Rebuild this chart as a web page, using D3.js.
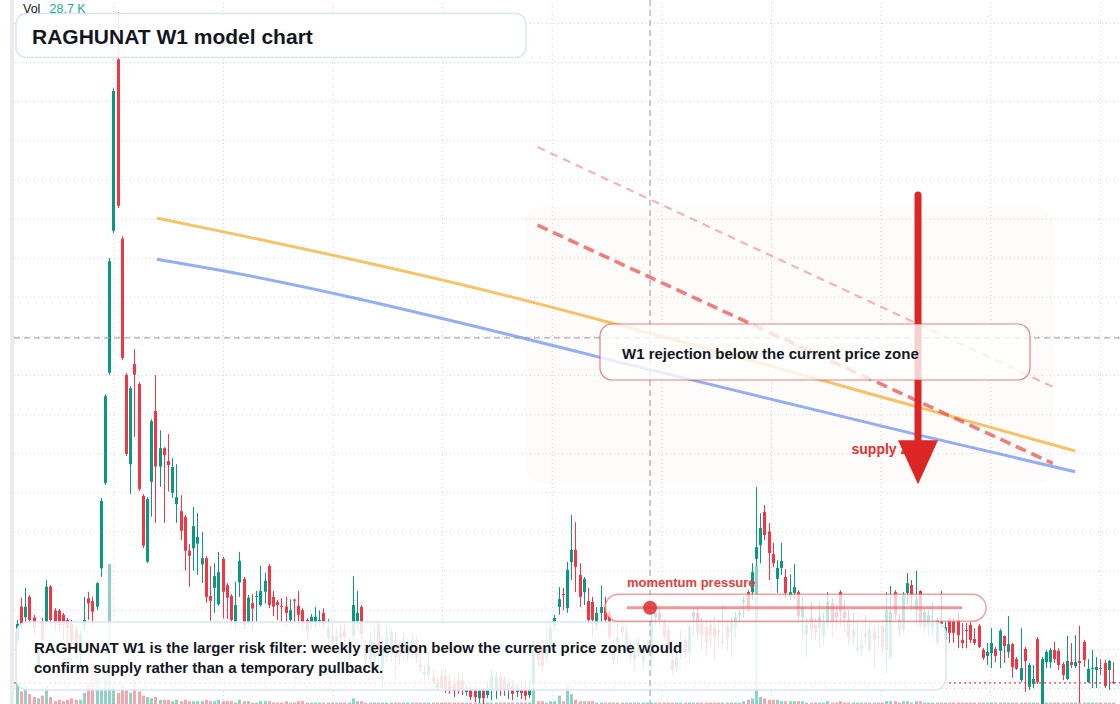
<!DOCTYPE html>
<html><head><meta charset="utf-8">
<script src="https://cdn.jsdelivr.net/npm/d3@7"></script>
<style>
html,body{margin:0;padding:0;background:#fff;overflow:hidden;}
svg{display:block;font-family:"Liberation Sans",Arial,Helvetica,sans-serif;}
</style></head><body>
<svg id="chart" width="1120" height="704"></svg>
<script>
// ---- data (weekly candles, price units) ----
const opens = [32.3,40.8,38.1,43.3,38.0,25.9,36.9,36.9,45.9,39.8,39.8,38.7,37.4,36.4,34.8,28.4,36.1,42.9,42.2,40.8,
50.6,72.4,100.6,136.9,180.7,134.9,100.0,77.2,102.8,97.7,69.1,52.3,72.7,90.8,76.6,81.3,78.0,69.9,67.0,65.2,
63.7,55.1,55.7,56.9,51.6,53.2,43.5,45.6,41.4,53.0,46.3,43.5,36.9,47.0,47.9,36.9,41.7,43.3,41.2,44.6,
51.2,43.3,42.0,41.0,40.8,37.4,42.6,41.0,39.9,37.4,36.9,36.9,37.1,39.2,32.8,33.5,32.0,34.1,34.6,29.2,
33.3,37.1,40.7,30.2,27.2,27.7,36.1,25.1,27.9,28.4,32.3,31.0,29.5,28.4,29.7,32.3,25.9,23.3,23.3,22.8,
20.0,23.3,23.3,21.8,21.0,22.0,22.0,19.0,19.7,19.5,17.4,19.5,18.2,20.0,19.5,22.8,22.0,19.5,20.5,19.0,
19.5,19.7,18.2,20.8,30.2,30.2,27.9,30.5,36.1,40.7,44.0,40.4,52.2,55.3,48.9,44.5,42.2,42.0,36.1,39.2,
40.7,39.2,31.0,30.5,35.6,30.5,30.5,27.2,28.9,26.6,29.7,31.0,38.1,39.2,36.9,34.8,27.2,25.4,29.2,32.3,
28.9,38.1,39.2,36.6,35.6,36.1,35.6,34.8,31.5,35.6,34.1,35.6,38.7,42.0,44.5,44.5,53.0,56.5,65.0,60.0,
54.2,47.9,50.7,48.4,43.5,44.3,44.5,38.1,33.5,37.9,36.1,35.3,33.3,36.6,41.7,39.4,44.5,39.4,37.4,32.8,
29.7,30.2,34.1,29.7,34.3,33.0,35.9,29.7,27.9,44.5,37.6,34.8,44.3,46.3,39.9,44.8,35.6,36.1,35.6,31.5,
36.9,32.3,37.1,36.9,37.4,32.3,34.8,36.1,32.5,35.9,29.7,28.2,28.9,30.0,29.5,33.3,29.2,31.2,27.4,22.0,
30.0,20.3,21.0,32.5,15.5,26.6,26.6,29.7,29.5,26.1,22.3,26.6,25.6,26.9,31.8,21.5,24.9,24.6,25.1,26.4,
24.6,21.5];
const highs = [37.4,43.1,45.6,43.8,38.7,30.2,37.9,47.6,46.3,40.4,40.2,39.2,37.9,37.4,36.1,34.8,43.3,44.6,43.3,47.0,
68.6,95.1,129.9,173.3,192.8,135.5,100.5,97.2,106.6,98.2,69.6,68.8,88.7,100.0,85.9,81.6,84.9,78.8,77.2,69.3,
64.2,56.8,66.3,64.8,59.9,53.7,51.2,51.9,54.8,53.5,46.8,44.0,47.2,54.8,48.4,43.8,44.0,44.8,51.2,49.5,
51.7,44.8,42.5,43.0,43.3,42.7,42.8,44.8,40.4,37.9,38.9,40.7,39.8,40.4,37.6,36.6,35.3,36.1,36.6,33.0,
48.6,44.8,41.2,32.3,34.3,35.6,36.9,33.0,36.1,35.3,34.3,32.3,34.3,32.8,33.5,33.3,29.7,25.9,29.2,24.6,
22.8,24.6,25.1,23.3,22.6,24.1,23.6,20.5,20.5,20.5,20.0,20.0,21.5,24.6,24.1,24.1,23.1,22.6,22.0,21.3,
21.3,22.0,22.0,32.3,31.8,32.3,35.3,36.9,38.7,45.8,45.6,52.2,64.2,62.4,51.9,48.4,45.6,43.3,40.7,46.1,
43.3,39.9,32.3,36.6,37.4,35.6,32.3,30.5,32.8,30.2,32.3,40.4,41.2,40.7,37.4,36.1,28.9,31.5,34.8,33.5,
36.1,40.7,40.7,38.1,37.4,37.4,38.1,37.4,41.2,37.4,38.1,39.4,39.9,43.5,45.0,51.9,71.4,64.7,66.8,62.2,
57.1,52.7,57.1,50.4,49.1,51.7,45.0,43.3,38.1,42.0,37.9,41.7,39.2,44.5,43.0,41.2,45.0,42.5,39.9,39.2,
37.4,34.8,38.7,36.6,36.1,36.6,37.4,44.5,46.1,45.0,38.9,44.5,49.4,47.6,50.0,45.0,40.4,39.9,42.0,37.9,
44.8,36.9,37.9,37.9,39.4,36.6,36.6,36.9,35.3,36.4,30.2,31.5,35.3,30.5,35.1,33.4,38.4,31.5,27.9,35.3,
30.5,26.4,25.9,33.0,27.9,29.7,30.2,31.8,30.2,26.6,33.3,31.5,33.5,35.9,32.3,27.4,29.7,27.9,27.4,27.2,
27.2,26.6];
const lows = [31.0,34.8,36.9,36.1,33.5,25.1,31.0,36.1,36.1,34.8,34.3,32.3,31.0,29.7,27.2,25.9,34.8,37.4,36.1,39.9,
48.4,71.9,100.0,136.3,142.7,103.8,79.3,69.6,84.2,70.3,55.8,51.9,63.8,62.2,71.4,62.2,70.2,68.6,62.2,57.8,
50.0,45.9,50.0,48.9,46.8,41.8,37.2,39.2,41.0,37.8,37.6,36.1,35.3,43.3,34.8,36.1,34.4,36.9,40.8,41.6,
40.4,38.4,37.4,36.9,35.9,36.6,36.9,36.1,34.8,32.3,34.8,35.3,36.1,35.3,31.0,30.5,29.7,31.0,29.7,27.2,
32.3,34.8,32.3,24.6,25.9,25.1,25.9,20.3,26.6,26.6,22.6,25.9,27.2,26.6,27.7,26.4,24.1,22.0,22.0,20.8,
19.5,19.5,18.7,18.5,17.7,18.5,18.2,18.0,16.9,16.4,16.2,15.9,17.4,16.9,17.2,18.0,18.0,17.2,16.9,17.7,
17.2,16.9,17.4,19.5,25.4,24.1,26.6,29.7,34.8,38.7,39.9,39.2,47.6,44.5,40.7,41.2,36.9,33.0,34.8,36.1,
36.1,32.3,25.9,26.4,33.0,28.9,26.4,24.6,27.7,24.6,28.4,24.6,36.1,36.1,32.3,29.7,23.3,24.1,27.2,27.7,
26.4,33.0,32.3,29.7,28.9,30.5,27.2,30.5,30.5,29.7,27.9,32.8,36.9,38.1,39.4,42.5,51.2,51.9,57.8,47.6,
50.9,44.3,48.9,43.0,42.5,43.0,37.4,32.3,27.9,32.3,32.3,30.5,31.0,35.6,33.0,35.6,35.6,34.1,31.0,31.0,
29.2,28.4,31.0,28.9,25.1,31.0,28.4,23.8,27.2,37.4,33.0,34.1,41.2,39.9,36.1,35.3,34.1,33.0,33.5,31.0,
34.8,30.5,31.5,31.5,30.2,30.2,30.2,31.5,31.0,30.2,27.2,25.9,25.1,26.6,25.1,26.4,27.7,22.6,24.6,21.5,
19.0,19.5,20.0,21.0,15.0,25.1,25.1,26.4,24.6,22.0,22.0,25.1,25.1,16.2,25.4,21.3,20.0,20.0,23.3,20.0,
19.5,21.0];
const closes = [36.4,36.1,40.8,37.4,35.3,29.2,32.3,45.9,37.4,36.9,36.1,36.1,35.3,32.3,29.7,33.5,37.4,41.6,39.5,46.8,
67.8,94.6,129.1,172.6,143.3,104.4,79.8,96.6,100.1,70.9,56.4,68.3,88.2,76.6,81.3,79.5,77.0,76.5,68.8,60.2,
55.1,53.8,61.4,58.6,53.2,43.3,42.3,48.6,49.6,44.6,43.1,37.4,41.2,52.5,36.1,43.1,40.3,43.5,44.8,47.4,
41.2,40.8,41.2,40.8,39.2,39.9,42.3,38.7,36.6,34.3,38.2,38.2,37.4,36.9,35.3,31.8,33.3,32.8,33.0,31.8,
41.2,39.2,33.8,27.2,32.3,31.8,29.2,30.2,33.0,34.3,27.9,28.2,32.5,31.0,32.3,27.9,25.1,24.1,25.9,21.5,
21.5,20.0,19.5,19.5,19.2,19.5,19.7,19.5,17.7,17.7,19.5,17.4,19.5,23.3,23.1,19.5,19.5,21.3,18.5,19.7,
18.7,18.0,19.7,31.0,27.2,25.6,32.3,35.3,37.9,42.7,43.8,50.2,55.3,50.9,43.3,47.9,37.4,37.4,39.2,40.7,
37.4,33.0,27.2,33.0,34.3,34.1,27.9,28.9,31.5,28.4,30.5,37.4,39.4,37.4,33.0,31.0,24.6,27.9,31.8,29.2,
35.6,39.4,34.3,33.5,31.5,33.5,33.0,34.3,32.0,32.8,36.9,38.1,39.2,42.5,40.7,49.6,56.0,60.9,59.1,54.5,
51.9,50.7,52.5,44.3,44.5,45.8,38.4,40.7,36.1,34.8,34.3,38.1,36.6,42.0,36.6,38.1,39.4,37.9,32.8,34.8,
30.2,31.0,33.0,34.8,32.3,33.3,30.5,39.9,39.4,38.7,34.8,43.8,46.8,43.8,42.7,36.1,39.4,38.7,36.6,37.4,
36.4,35.6,34.1,34.1,33.5,31.5,34.6,32.3,31.5,30.5,27.7,29.2,31.5,28.2,34.6,30.7,31.2,25.4,24.9,25.1,
26.9,25.9,22.3,21.5,27.4,29.2,29.7,27.4,25.9,23.3,26.9,25.9,26.6,26.4,27.2,24.9,25.1,25.4,24.9,20.5,
26.9,21.3];
const volumes = [15,9,12,7,5,4,6,13,5,2,3,2,3,4,3,3,8,15,29,22,
11,18,100,12,8,14,10,8,17,9,6,5,4,5,3,3,3,2,3,2,
3,2,2,2,2,3,2,2,3,2,2,2,1,3,2,2,1,1,2,2,
2,1,1,1,2,1,1,2,2,1,1,1,1,1,1,1,1,1,1,1,
4,2,2,1,1,1,1,1,1,1,1,1,1,1,1,1,1,1,1,1,
1,1,1,1,1,1,1,1,1,1,1,1,1,1,1,1,1,1,1,1,
1,1,1,10,2,2,1,2,2,6,2,14,7,3,2,2,2,2,1,1,
1,1,1,1,1,1,1,1,1,1,1,1,1,1,1,1,1,1,1,1,
1,1,1,1,1,1,1,1,1,1,1,1,1,2,3,4,99,5,4,3,
3,3,2,2,2,2,2,2,1,1,1,1,1,2,1,1,2,1,1,1,
1,1,1,1,1,1,1,2,2,2,1,2,2,1,2,2,1,1,1,1,
1,1,1,1,1,1,1,1,1,1,1,1,1,1,1,1,1,1,1,1,
1,1,1,1,2,1,1,1,1,1,1,1,1,1,1,1,1,1,1,1,
1,1];

const priceTicks = [20,30,40,50,60,70,80,90,100,110,120,130,140,150,160,170,180,190];
const yearStartIdx = [23.0,49.1,75.2,101.3,127.4,153.5,179.6,205.7,231.8,257.9];

// moving-average style curves (bar index, price)
const maIdx = [33.4, 48.4, 115.1, 143.4, 214.6, 252.0];
const orangeVals = [140.1, 136.8, 120.7, 112.8, 91.8, 80.6];
const blueVals = [129.6, 126.8, 110.9, 103.3, 84.7, 75.3];

// projected rejection lines
const rejIdx = [124.0, 246.7];
const rejMain = [138.3, 77.4];
const rejOuter = [158.3, 97.0];

// annotation anchors
const zoneIdx = [121.2, 246.7], zonePrice = [143.0, 72.3];
const arrowIdx = 214.6, arrowFrom = 146.0, arrowTo = 72.1;
const crossIdx = 150.8, crossPrice = 109.5;
const momentumIdx = [145.3, 225.1], momentumLevel = 40.5;
const lastClose = closes[closes.length - 1];

const W = 1120, H = 704;
const svg = d3.select("#chart");
const x = d3.scaleLinear().domain([0, closes.length - 1]).range([16.7, 1112.9]);
const y = d3.scaleLinear().domain([20, 190]).range([688, 23]);
const yVol = d3.scaleLinear().domain([0, 100]).range([H, 564]);

const candles = closes.map((c, i) => ({i, o: opens[i], h: highs[i], l: lows[i], c, v: volumes[i]}));
const GREEN = "#089981", RED = "#f23645";

svg.append("rect").attr("width", W).attr("height", H).attr("fill", "#fff");
// left strip (cut price scale edge)
svg.append("rect").attr("x", 10).attr("y", 0).attr("width", 4).attr("height", H).attr("fill", "#ebebeb");

// grid
const gy = svg.append("g").attr("transform", "translate(14,0)")
  .call(d3.axisLeft(y).tickValues(priceTicks).tickSize(-(W - 14)).tickFormat(""));
gy.select(".domain").remove();
gy.selectAll("line").attr("stroke", "#cfd3da").attr("stroke-dasharray", "1,3");
const gx = svg.append("g").attr("transform", `translate(0,${H})`)
  .call(d3.axisBottom(x).tickValues(yearStartIdx).tickSize(-H).tickFormat(""));
gx.select(".domain").remove();
gx.selectAll("line").attr("stroke", "#cfd3da").attr("stroke-dasharray", "1,3");

// volume
svg.append("g").selectAll("rect").data(candles).join("rect")
  .attr("x", d => Math.round(x(d.i)) - 1).attr("width", 3)
  .attr("y", d => yVol(d.v)).attr("height", d => H - yVol(d.v))
  .attr("fill", d => d.c >= d.o ? "rgba(8,153,129,0.45)" : "rgba(242,54,69,0.45)");

// supply zone shading
svg.append("rect")
  .attr("x", x(zoneIdx[0])).attr("y", y(zonePrice[0]))
  .attr("width", x(zoneIdx[1]) - x(zoneIdx[0])).attr("height", y(zonePrice[1]) - y(zonePrice[0]))
  .attr("rx", 16).attr("fill", "rgba(240,190,150,0.05)");

// candles
const cg = svg.append("g").selectAll("g").data(candles).join("g");
cg.append("line")
  .attr("x1", d => Math.round(x(d.i)) + 0.5).attr("x2", d => Math.round(x(d.i)) + 0.5)
  .attr("y1", d => y(d.h)).attr("y2", d => y(d.l))
  .attr("stroke", d => d.c >= d.o ? GREEN : RED).attr("stroke-width", 1);
cg.append("rect")
  .attr("x", d => Math.round(x(d.i)) - 1).attr("width", 3)
  .attr("y", d => y(Math.max(d.o, d.c)))
  .attr("height", d => Math.max(1, Math.abs(y(d.o) - y(d.c))))
  .attr("fill", d => d.c >= d.o ? GREEN : RED);

// last price line
svg.append("line").attr("x1", 14).attr("x2", W).attr("y1", y(lastClose)).attr("y2", y(lastClose))
  .attr("stroke", RED).attr("stroke-width", 1.3).attr("stroke-dasharray", "2,3");

// MA curves
const maLine = vals => d3.line().curve(d3.curveMonotoneX)
  .x((d, i) => x(maIdx[i])).y(d => y(d))(vals);
svg.append("path").attr("d", maLine(orangeVals)).attr("fill", "none")
  .attr("stroke", "rgba(245,168,40,0.7)").attr("stroke-width", 3);
svg.append("path").attr("d", maLine(blueVals)).attr("fill", "none")
  .attr("stroke", "rgba(90,130,240,0.65)").attr("stroke-width", 3);

// projected rejection lines
const rej = vals => d3.line().x((d, i) => x(rejIdx[i])).y(d => y(d))(vals);
svg.append("path").attr("d", rej(rejOuter)).attr("fill", "none")
  .attr("stroke", "rgba(235,90,90,0.45)").attr("stroke-width", 2.2).attr("stroke-dasharray", "8,6");
svg.append("path").attr("d", rej(rejMain)).attr("fill", "none")
  .attr("stroke", "rgba(225,60,60,0.65)").attr("stroke-width", 3.6).attr("stroke-dasharray", "11,6");

// bottom text box
svg.append("rect").attr("x", 16).attr("y", 622).attr("width", 930).attr("height", 68).attr("rx", 12)
  .attr("fill", "rgba(255,255,255,0.86)").attr("stroke", "#d8e5f7").attr("stroke-width", 1.5);
const bt = svg.append("text").attr("font-size", 15).attr("font-weight", "bold").attr("fill", "#131722");
bt.append("tspan").attr("x", 34).attr("y", 653)
  .text("RAGHUNAT W1 is the larger risk filter: weekly rejection below the current price zone would");
bt.append("tspan").attr("x", 34).attr("y", 673)
  .text("confirm supply rather than a temporary pullback.");

// crosshair
svg.append("line").attr("x1", x(crossIdx)).attr("x2", x(crossIdx)).attr("y1", 0).attr("y2", H)
  .attr("stroke", "#9598a1").attr("stroke-width", 1).attr("stroke-dasharray", "6,4");
svg.append("line").attr("x1", 14).attr("x2", W).attr("y1", y(crossPrice)).attr("y2", y(crossPrice))
  .attr("stroke", "#9598a1").attr("stroke-width", 1).attr("stroke-dasharray", "6,4");

// supply zone label + arrow
svg.append("text").attr("x", 851.5).attr("y", 453.5).attr("font-size", 14).attr("font-weight", "bold")
  .attr("fill", "#e03131").text("supply zone");
const ax = x(arrowIdx), tipY = y(arrowTo);
svg.append("line").attr("x1", ax).attr("x2", ax).attr("y1", y(arrowFrom)).attr("y2", tipY - 40)
  .attr("stroke", "#dc2626").attr("stroke-width", 7).attr("stroke-linecap", "round");
svg.append("path").attr("d", `M${ax - 20},${tipY - 44} L${ax + 20},${tipY - 44} L${ax},${tipY} Z`)
  .attr("fill", "#dc2626");

// callout
svg.append("rect").attr("x", 600).attr("y", 324).attr("width", 430).attr("height", 56).attr("rx", 12)
  .attr("fill", "rgba(255,255,255,0.78)").attr("stroke", "rgba(225,60,60,0.65)").attr("stroke-width", 1.2);
svg.append("text").attr("x", 622).attr("y", 359).attr("font-size", 15).attr("font-weight", "bold")
  .attr("fill", "#131722").text("W1 rejection below the current price zone");

// momentum pressure pill
const my = y(momentumLevel);
svg.append("rect").attr("x", 605).attr("y", my - 13.5).attr("width", 381).attr("height", 27).attr("rx", 13.5)
  .attr("fill", "rgba(255,255,255,0.74)").attr("stroke", "rgba(229,83,83,0.55)").attr("stroke-width", 1.5);
svg.append("line").attr("x1", x(momentumIdx[0])).attr("x2", x(momentumIdx[1])).attr("y1", my).attr("y2", my)
  .attr("stroke", "rgba(229,83,83,0.6)").attr("stroke-width", 3);
svg.append("circle").attr("cx", x(crossIdx)).attr("cy", my).attr("r", 7).attr("fill", "rgba(224,50,50,0.88)");
svg.append("text").attr("x", 627).attr("y", 587).attr("font-size", 13).attr("font-weight", "bold")
  .attr("fill", "#e03e3e").text("momentum pressure");

// title box
svg.append("rect").attr("x", 16).attr("y", 13.5).attr("width", 510).attr("height", 44).attr("rx", 10)
  .attr("fill", "rgba(255,255,255,0.88)").attr("stroke", "#d8e5f7").attr("stroke-width", 1.5);
svg.append("text").attr("x", 32).attr("y", 43.5).attr("font-size", 21).attr("font-weight", "bold")
  .attr("fill", "#131722").text("RAGHUNAT W1 model chart");

// volume legend
const vt = svg.append("text").attr("y", 12.5).attr("font-size", 12.5);
vt.append("tspan").attr("x", 23).attr("fill", "#131722").text("Vol");
vt.append("tspan").attr("x", 49.5).attr("fill", "#22ab94").text("28.7 K");
</script>
</body></html>
